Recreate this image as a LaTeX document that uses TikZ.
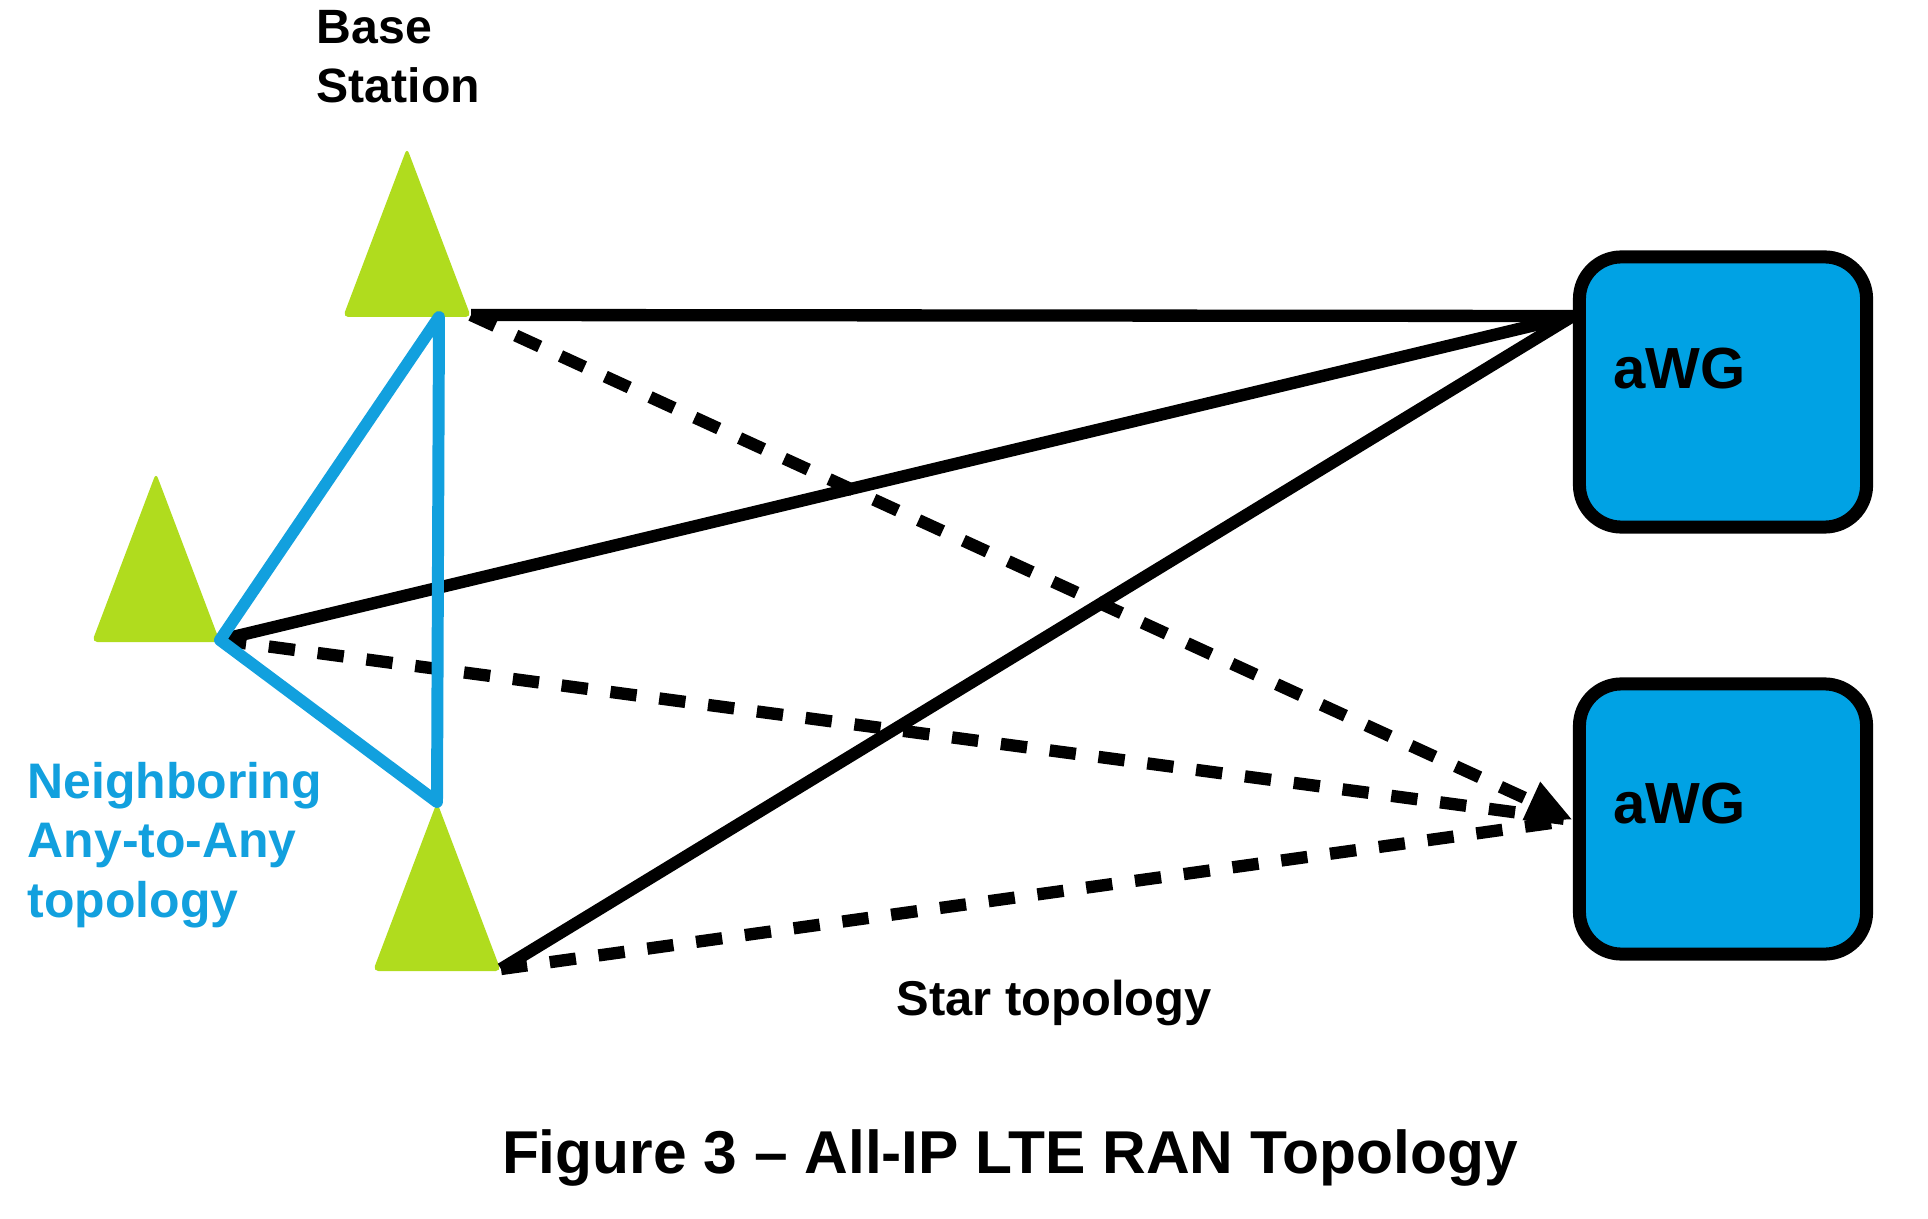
\documentclass[tikz,border=0pt]{standalone}
\usepackage{fontspec}
\setmainfont{Liberation Sans}
\usetikzlibrary{arrows.meta,calc}
\definecolor{lima}{RGB}{176,220,30}
\definecolor{celeste}{RGB}{18,160,222}
\definecolor{cajaazul}{RGB}{0,162,228}

\begin{document}
\begin{tikzpicture}[x=0.01cm,y=-0.01cm,
    estrella/.style={black,line width=3.5pt},
    punteada/.style={black,line width=3.5pt,dash pattern=on 7.5pt off 6.5pt},
    vecino/.style={celeste,line width=3.4pt,line join=round},
    awg/.style={draw=black,line width=3.7pt,fill=cajaazul,rounded corners=0.42cm,
      minimum width=2.87cm,minimum height=2.7cm,inner sep=0pt},
    etiqueta/.style={inner sep=0pt,font=\bfseries\fontsize{16.5}{19}\selectfont},
    estacion/.pic={
      \fill[lima,rounded corners=1.5pt] (-64,0) -- (0,-169) -- (64,0) -- cycle;
      \coordinate (-cima) at (0,-169);
      \coordinate (-der) at (64,-2);
      \coordinate (-medio) at (32,0);
    }]
  \useasboundingbox (0,0) rectangle (1928,1219);
  \pic (bsTop) at (407,317) {estacion};
  \pic (bsLeft) at (156,642) {estacion};
  \pic (bsBot) at (437,971) {estacion};
  \node[awg] (awgA) at (1723,392) {};
  \node[awg] (awgB) at (1723,819) {};
  \node[etiqueta,anchor=base west] at ($(awgA.west)+(40,-3)$) {aWG};
  \node[etiqueta,anchor=base west] at ($(awgB.west)+(40,4)$) {aWG};
  \coordinate (awgA-in) at ($(awgA.west)+(0,-76)$);
  \coordinate (awgB-in) at ($(awgB.west)+(0,1)$);
  \foreach \bs in {bsTop,bsLeft,bsBot}
    \draw[estrella] (\bs-der) -- (awgA-in);
  \draw[punteada,-{Triangle[length=13pt,width=11pt]}] (bsTop-der) -- (awgB-in);
  \draw[punteada] (bsLeft-der) -- (awgB-in);
  \draw[punteada] (bsBot-der) -- (awgB-in);
  \draw[vecino] (bsTop-medio) -- (bsLeft-der) -- (bsBot-cima) -- cycle;
  \node[anchor=north west,align=left,inner sep=0pt,
    font=\bfseries\fontsize{13.7}{16.8}\selectfont] (rotulo) at (316,10) {Base\\Station};
  \node[anchor=north west,align=left,inner sep=0pt,text=celeste,
    font=\bfseries\fontsize{14.2}{16.8}\selectfont] (vecinos) at (27,762) {Neighboring\\Any-to-Any\\topology};
  \node[anchor=base,inner sep=0pt,font=\bfseries\fontsize{13.9}{16}\selectfont] (estrellas) at (1054,1015) {Star topology};
  \node[anchor=base,inner sep=0pt,font=\bfseries\fontsize{17.2}{19}\selectfont] (titulo) at (1010,1173) {Figure 3 -- All-IP LTE RAN Topology};
\end{tikzpicture}
\end{document}
